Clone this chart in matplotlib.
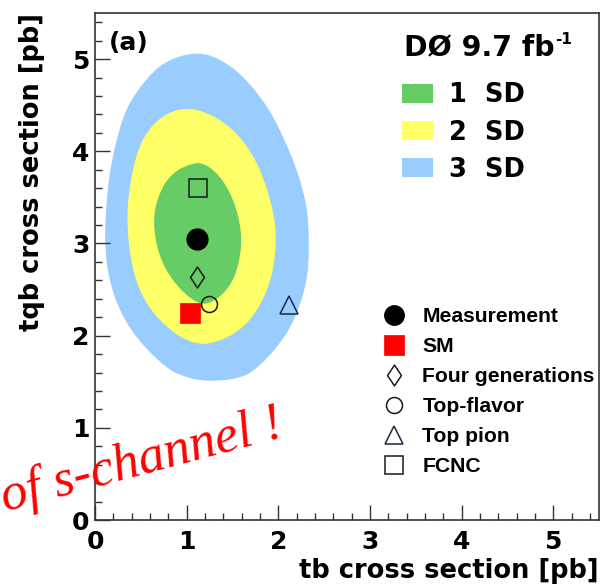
import numpy as np
import matplotlib
matplotlib.use("Agg")
import matplotlib.pyplot as plt
from matplotlib.patches import Polygon, Patch
from matplotlib.lines import Line2D
from matplotlib.path import Path
from matplotlib.ticker import MultipleLocator

# ---- data ----
# contour boundaries (tb, tqb) in pb
sd3_x = [1.08, 0.76, 0.545, 0.345, 0.236, 0.163, 0.127, 0.112, 0.145, 0.254, 0.45, 0.78,
         1.00, 1.22, 1.50, 1.72, 2.05, 2.23, 2.32, 2.33, 2.31, 2.215, 2.07, 1.89, 1.60, 1.32]
sd3_y = [5.07, 4.97, 4.76, 4.47, 4.11, 3.75, 3.39, 3.03, 2.67, 2.31, 1.98, 1.65,
         1.55, 1.51, 1.53, 1.60, 1.95, 2.31, 2.67, 3.03, 3.39, 3.75, 4.11, 4.47, 4.83, 5.02]
sd2_x = [1.05, 0.75, 0.52, 0.40, 0.345, 0.418, 0.581, 0.835, 1.05, 1.25, 1.525, 1.743, 1.924,
         1.985, 1.888, 1.707, 1.416]
sd2_y = [4.48, 4.40, 4.15, 3.75, 3.24, 2.67, 2.31, 2.05, 1.93, 1.91, 2.02, 2.23, 2.60,
         3.10, 3.57, 4.00, 4.32]
sd1_x = [1.09, 0.82, 0.67, 0.642, 0.71, 0.85, 1.035, 1.20, 1.40, 1.54, 1.605, 1.54, 1.40, 1.235]
sd1_y = [3.88, 3.75, 3.46, 3.17, 2.85, 2.60, 2.41, 2.33, 2.45, 2.67, 3.03, 3.39, 3.68, 3.84]

sd_labels = ["1  SD", "2  SD", "3  SD"]
sd_colors = ["#66CC66", "#FFFF66", "#99CCFF"]

model_names = ["Measurement", "SM", "Four generations", "Top-flavor", "Top pion", "FCNC"]
model_tb = [1.11, 1.04, 1.11, 1.24, 2.12, 1.12]
model_tqb = [3.05, 2.25, 2.64, 2.34, 2.33, 3.60]

x_ticks = [0, 1, 2, 3, 4, 5]
y_ticks = [0, 1, 2, 3, 4, 5]

# ---- helpers ----
def chaikin_closed(xs, ys, iters=5):
    P = np.column_stack([xs, ys]).astype(float)
    for _ in range(iters):
        Q = np.roll(P, -1, axis=0)
        a = 0.75 * P + 0.25 * Q
        b = 0.25 * P + 0.75 * Q
        P = np.empty((2 * len(a), 2))
        P[0::2] = a
        P[1::2] = b
    return P

BOLD = "DejaVu Sans"
LEG = "Liberation Sans"

fig = plt.figure(figsize=(6.02, 5.86), dpi=100)
ax = fig.add_axes([95 / 602, 1 - 520 / 586, 504 / 602, 507 / 586])
ax.set_xlim(0, 5.5)
ax.set_ylim(0, 5.5)

for (xs, ys, c) in [(sd3_x, sd3_y, sd_colors[2]), (sd2_x, sd2_y, sd_colors[1]), (sd1_x, sd1_y, sd_colors[0])]:
    pts = chaikin_closed(xs, ys)
    ax.add_patch(Polygon(pts, closed=True, facecolor=c, edgecolor=c, linewidth=0.8, zorder=1))

diamond = Path([(0, 1), (0.667, 0), (0, -1), (-0.667, 0), (0, 1)],
               [Path.MOVETO, Path.LINETO, Path.LINETO, Path.LINETO, Path.CLOSEPOLY])

styles = [
    dict(marker="o", ms=15, mfc="black", mec="black", mew=1.0),
    dict(marker="s", ms=14.4, mfc="#FF0000", mec="#FF0000", mew=0.5),
    dict(marker=diamond, ms=15, mfc="none", mec="#1a1a1a", mew=1.1),
    dict(marker="o", ms=11.5, mfc="none", mec="#1a1a1a", mew=1.1),
    dict(marker="^", ms=13, mfc="none", mec="#1a2a40", mew=1.1),
    dict(marker="s", ms=13, mfc="none", mec="#1a1a1a", mew=1.1),
]
for i in range(len(model_names)):
    ax.plot([model_tb[i]], [model_tqb[i]], linestyle="none", zorder=3, **styles[i])

# axes styling
ax.set_xticks(x_ticks)
ax.set_yticks(y_ticks)
ax.xaxis.set_minor_locator(MultipleLocator(0.2))
ax.yaxis.set_minor_locator(MultipleLocator(0.2))
ax.tick_params(which="both", direction="in", top=False, right=False, color="#333333", width=1.0)
ax.tick_params(which="major", length=11)
ax.tick_params(which="minor", length=5)
ax.tick_params(axis="x", which="major", pad=7)
ax.tick_params(axis="y", which="major", pad=4)
for lab in ax.get_xticklabels() + ax.get_yticklabels():
    lab.set_fontfamily(BOLD)
    lab.set_fontweight("bold")
    lab.set_fontsize(18)
for s in ax.spines.values():
    s.set_color("#333333")
    s.set_linewidth(1.2)

ax.set_xlabel("tb cross section [pb]", fontfamily=BOLD, fontweight="bold", fontsize=18.5)
ax.xaxis.set_label_coords(1.0, -0.074)
ax.xaxis.label.set_ha("right")
ax.set_ylabel("tqb cross section [pb]", fontfamily=BOLD, fontweight="bold", fontsize=18.5)
ax.yaxis.set_label_coords(-0.099, 1.0)
ax.yaxis.label.set_ha("right")

ax.text(0.028, 0.941, "(a)", transform=ax.transAxes, fontfamily=BOLD, fontweight="bold",
        fontsize=18, ha="left", va="center")

# title of the legend
t = ax.text(0.614, 0.917, "DØ 9.7 fb", transform=ax.transAxes, fontfamily=BOLD,
            fontweight="bold", fontsize=20.5, ha="left", va="baseline")
ax.annotate("-1", xy=(1, 1), xycoords=t, xytext=(0, 1), textcoords="offset points",
            fontfamily=BOLD, fontweight="bold", fontsize=11, ha="left", va="top")

# SD legend
sd_handles = [Patch(facecolor=c, edgecolor="none") for c in sd_colors]
leg1 = ax.legend(sd_handles, sd_labels, loc="upper left", bbox_to_anchor=(0.609, 0.863),
                 frameon=False, borderpad=0, borderaxespad=0, handlelength=1.2, handleheight=0.75,
                 handletextpad=0.65, labelspacing=0.43,
                 prop=dict(family=BOLD, weight="bold", size=18.5))
ax.add_artist(leg1)

# model legend
mh = []
for i in range(len(model_names)):
    st = dict(styles[i])
    if i == 0:
        st["ms"] = 14
    mh.append(Line2D([], [], linestyle="none", **st))
leg2 = ax.legend(mh, model_names, loc="upper left", bbox_to_anchor=(0.572, 0.42),
                 frameon=False, borderpad=0, borderaxespad=0, handlelength=1.0,
                 handletextpad=0.85, labelspacing=0.52,
                 prop=dict(family=LEG, weight="bold", size=15.2))

fig.text(5 / 602, 1 - 511 / 586, "of s-channel !", color="#FF0000", fontfamily="Liberation Serif",
         fontstyle="italic", fontsize=38, rotation=15, rotation_mode="anchor",
         ha="left", va="baseline", zorder=10)

fig.savefig("out.png", dpi=100)
